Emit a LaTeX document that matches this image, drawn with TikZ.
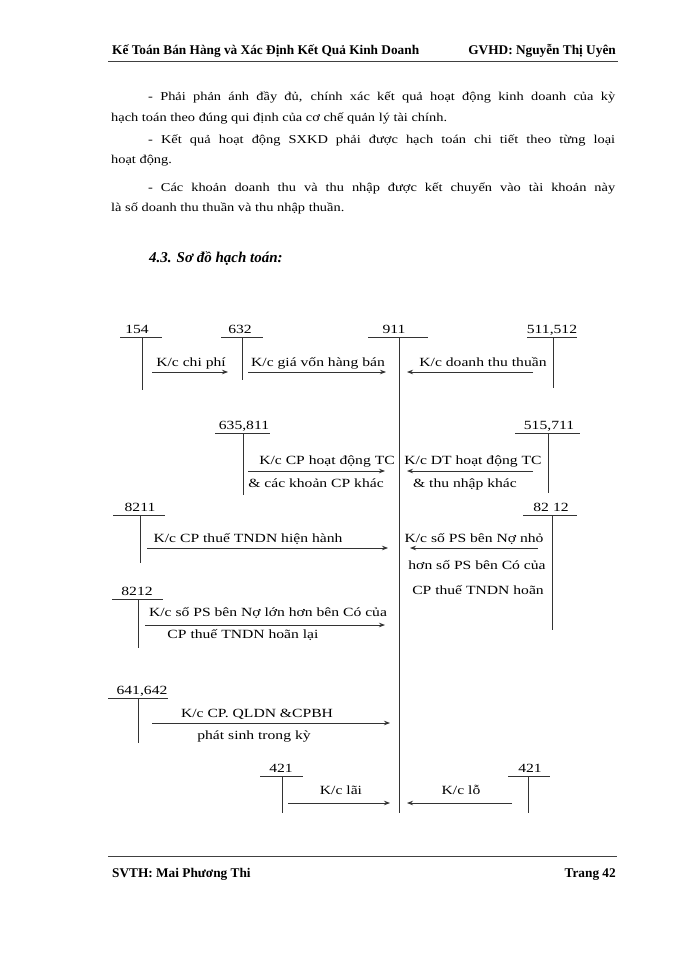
\documentclass[tikz,border=0pt]{standalone}
\usepackage{fontspec}
\setmainfont{Liberation Serif}
\newfontfamily\vnt[FakeStretch=1.2]{Liberation Serif}
\newfontfamily\vntd[FakeStretch=1.25]{Liberation Serif}
\usetikzlibrary{arrows.meta}
\begin{document}
\begin{tikzpicture}[x=1pt,y=-1pt,
  txt/.style={inner sep=0pt, font=\vntd\fontsize{12.5}{14}\selectfont, anchor=base},
  acct/.style={line width=0.8pt, draw=black!80},
  flow/.style={line width=0.8pt, draw=black!80, -{Stealth[length=6pt,width=4.5pt]}},
  hdr/.style={inner sep=0pt, font=\bfseries\fontsize{13.3}{15}\selectfont},
  body/.style={inner sep=0pt, font=\vnt\fontsize{12}{14}\selectfont, anchor=base west},
]
\useasboundingbox[fill=white] (0,0) rectangle (700,960);
% header
\node[hdr, anchor=base west] (h1) at (112,55) {Kế Toán Bán Hàng và Xác Định Kết Quả Kinh Doanh};
\node[hdr, anchor=base east] (h2) at (616,55) {GVHD: Nguyễn Thị Uyên};
\coordinate (hl1) at (108,62); \coordinate (hl2) at (618,62);
\draw[line width=1pt, black!75] (hl1) -- (hl2);
% body
\node[body] (b1) at (148,101) {\makebox[467pt][s]{- Phải phản ánh đầy đủ, chính xác kết quả hoạt động kinh doanh của kỳ}};
\node[body] (b2) at (111,122) {hạch toán theo đúng qui định của cơ chế quản lý tài chính.};
\node[body] (b3) at (148,144) {\makebox[467pt][s]{- Kết quả hoạt động SXKD phải được hạch toán chi tiết theo từng loại}};
\node[body] (b4) at (111,164) {hoạt động.};
\node[body] (b5) at (148,191) {\makebox[467pt][s]{- Các khoản doanh thu và thu nhập được kết chuyển vào tài khoản này}};
\node[body] (b6) at (111,211) {là số doanh thu thuần và thu nhập thuần.};
\node[inner sep=0pt, anchor=base west, font=\bfseries\itshape\fontsize{15}{17}\selectfont] (hd) at (149,262) {4.3. Sơ đồ hạch toán:};
% T accounts: label node, horizontal line, vertical line
% 154
\node[txt] (a154) at (137,333) {154};
\draw[acct] (120,337) coordinate (a154l) -- (162,337) coordinate (a154r);
\draw[acct] (142,337) coordinate (a154t) -- (142,390) coordinate (a154b);
% 632
\node[txt] (a632) at (240,333) {632};
\draw[acct] (221,337) coordinate (a632l) -- (263,337) coordinate (a632r);
\draw[acct] (242,337) coordinate (a632t) -- (242,380) coordinate (a632b);
% 911
\node[txt] (a911) at (394,333) {911};
\draw[acct] (368,337) coordinate (a911l) -- (428,337) coordinate (a911r);
\draw[acct] (399,337) coordinate (a911t) -- (399,813) coordinate (a911b);
% 511,512
\node[txt] (a511) at (552,333) {511,512};
\draw[acct] (527,337) coordinate (a511l) -- (577,337) coordinate (a511r);
\draw[acct] (553,337) coordinate (a511t) -- (553,388) coordinate (a511b);
% 635,811
\node[txt] (a635) at (244,429) {635,811};
\draw[acct] (215,433) coordinate (a635l) -- (270,433) coordinate (a635r);
\draw[acct] (243,433) coordinate (a635t) -- (243,495) coordinate (a635b);
% 515,711
\node[txt] (a515) at (549,429) {515,711};
\draw[acct] (515,433) coordinate (a515l) -- (580,433) coordinate (a515r);
\draw[acct] (548,433) coordinate (a515t) -- (548,493) coordinate (a515b);
% 8211
\node[txt] (a8211) at (140,511) {8211};
\draw[acct] (113,515) coordinate (a8211l) -- (165,515) coordinate (a8211r);
\draw[acct] (140,515) coordinate (a8211t) -- (140,563) coordinate (a8211b);
% 82 12 right
\node[txt] (a8212r) at (551,511) {82\,\,12};
\draw[acct] (523,515) coordinate (a8212rl) -- (577,515) coordinate (a8212rr);
\draw[acct] (552,515) coordinate (a8212rt) -- (552,630) coordinate (a8212rb);
% 8212 left
\node[txt] (a8212) at (137,595) {8212};
\draw[acct] (112,599) coordinate (a8212l) -- (163,599) coordinate (a8212r);
\draw[acct] (138,599) coordinate (a8212t) -- (138,648) coordinate (a8212b);
% 641,642
\node[txt] (a641) at (142,694) {641,642};
\draw[acct] (108,698) coordinate (a641l) -- (168,698) coordinate (a641r);
\draw[acct] (138,698) coordinate (a641t) -- (138,743) coordinate (a641b);
% 421 left
\node[txt] (a421l) at (281,772) {421};
\draw[acct] (260,776) coordinate (a421ll) -- (303,776) coordinate (a421lr);
\draw[acct] (282,776) coordinate (a421lt) -- (282,813) coordinate (a421lb);
% 421 right
\node[txt] (a421r) at (530,772) {421};
\draw[acct] (508,776) coordinate (a421rl) -- (550,776) coordinate (a421rr);
\draw[acct] (528,776) coordinate (a421rt) -- (528,813) coordinate (a421rb);
% flows
\coordinate (f1s) at (152,372); \coordinate (f1e) at (228,372);
\draw[flow] (f1s) -- (f1e);
\node[txt] (t1) at (191,366) {K/c chi phí};
\coordinate (f2s) at (248,372); \coordinate (f2e) at (386,372);
\draw[flow] (f2s) -- (f2e);
\node[txt] (t2) at (318,366) {K/c giá vốn hàng bán};
\coordinate (f3s) at (533,372); \coordinate (f3e) at (407,372);
\draw[flow] (f3s) -- (f3e);
\node[txt] (t3) at (483,366) {K/c doanh thu thuần};
\coordinate (f4s) at (248,471); \coordinate (f4e) at (385,471);
\draw[flow] (f4s) -- (f4e);
\node[txt] (t4a) at (327,464) {K/c CP hoạt động TC};
\node[txt] (t4b) at (316,487) {\& các khoản CP khác};
\coordinate (f5s) at (533,471); \coordinate (f5e) at (407,471);
\draw[flow] (f5s) -- (f5e);
\node[txt] (t5a) at (473,464) {K/c DT hoạt động TC};
\node[txt] (t5b) at (465,487) {\& thu nhập khác};
\coordinate (f6s) at (147,548); \coordinate (f6e) at (388,548);
\draw[flow] (f6s) -- (f6e);
\node[txt] (t6) at (248,542) {K/c CP thuế TNDN hiện hành};
\coordinate (f7s) at (538,548); \coordinate (f7e) at (410,548);
\draw[flow] (f7s) -- (f7e);
\node[txt] (t7a) at (474,542) {K/c số PS bên Nợ nhỏ};
\node[txt] (t7b) at (477,569) {hơn số PS bên Có của};
\node[txt] (t7c) at (478,594) {CP thuế TNDN hoãn};
\coordinate (f8s) at (145,625); \coordinate (f8e) at (385,625);
\draw[flow] (f8s) -- (f8e);
\node[txt] (t8a) at (268,616) {K/c số PS bên Nợ lớn hơn bên Có của};
\node[txt] (t8b) at (243,638) {CP thuế TNDN hoãn lại};
\coordinate (f9s) at (152,723); \coordinate (f9e) at (390,723);
\draw[flow] (f9s) -- (f9e);
\node[txt] (t9a) at (257,717) {K/c CP. QLDN \&CPBH};
\node[txt] (t9b) at (254,739) {phát sinh trong kỳ};
\coordinate (f10s) at (288,803); \coordinate (f10e) at (390,803);
\draw[flow] (f10s) -- (f10e);
\node[txt] (t10) at (341,794) {K/c lãi};
\coordinate (f11s) at (512,803); \coordinate (f11e) at (407,803);
\draw[flow] (f11s) -- (f11e);
\node[txt] (t11) at (461,794) {K/c lỗ};
% footer
\coordinate (fl1) at (108,856); \coordinate (fl2) at (617,856);
\draw[line width=1pt, black!75] (fl1) -- (fl2);
\node[hdr, anchor=base west] (ft1) at (112,877) {SVTH: Mai Phương Thi};
\node[hdr, anchor=base east] (ft2) at (616,877) {Trang 42};
\end{tikzpicture}
\end{document}
